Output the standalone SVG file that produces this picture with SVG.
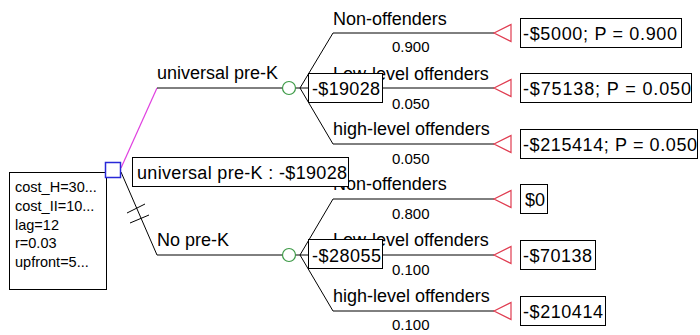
<svg xmlns="http://www.w3.org/2000/svg" width="700" height="335" viewBox="0 0 700 335">
  <style>
    .ln { stroke: #000; stroke-width: 1; fill: none; }
    .lbl { font-family: "Liberation Sans", Arial, sans-serif; font-size: 18px; fill: #000; }
    .prob { font-family: "Liberation Sans", Arial, sans-serif; font-size: 15px; fill: #000; }
    .vars { font-family: "Liberation Sans", Arial, sans-serif; font-size: 14.5px; fill: #000; }
    .box { fill: #fff; stroke: #000; stroke-width: 1; }
    .term { fill: #fff; stroke: #e03c50; stroke-width: 1.2; }
    .chance { fill: #fff; stroke: #3c9a46; stroke-width: 1.2; }
    .decision { fill: #fff; stroke: #2828d8; stroke-width: 1.5; }
  </style>
  <rect width="700" height="335" fill="#fff"/>

  <!-- connectors -->
  <g id="connectors">
    <!-- decision branches -->
    <path d="M121,168 L157,88" stroke="#e040e0" stroke-width="1.2" fill="none"/>
    <path class="ln" d="M157,88 H282.5"/>
    <path class="ln" d="M121,172 L157,255 H282.5"/>
    <!-- hash marks on the non-optimal branch -->
    <path class="ln" d="M127,213 L145,204 M130,223 L149,215"/>
    <!-- chance branches, universal pre-K -->
    <path class="ln" d="M295.5,88 H494"/>
    <path class="ln" d="M300,88 L333,33 H494"/>
    <path class="ln" d="M300,88 L333,144 H494"/>
    <!-- chance branches, no pre-K -->
    <path class="ln" d="M295.5,255 H494"/>
    <path class="ln" d="M300,255 L333,199 H494"/>
    <path class="ln" d="M300,255 L333,311 H494"/>
  </g>

  <!-- variables -->
  <g id="variables">
    <rect class="box" x="9.5" y="172.5" width="97" height="117"/>
    <text class="vars" x="15" y="192">cost_H=30...</text>
    <text class="vars" x="15" y="211">cost_II=10...</text>
    <text class="vars" x="15" y="230">lag=12</text>
    <text class="vars" x="15" y="248">r=0.03</text>
    <text class="vars" x="15" y="267">upfront=5...</text>
  </g>

  <!-- decision node -->
  <g id="decision">
    <rect class="decision" x="105.5" y="162.5" width="15" height="15"/>
  </g>

  <!-- branch labels -->
  <g id="branch-labels">
    <text class="lbl" x="157" y="79">universal pre-K</text>
    <text class="lbl" x="157" y="246">No pre-K</text>
  </g>

  <!-- outcome labels and probabilities -->
  <g id="outcomes-universal">
    <text class="lbl" x="333" y="25">Non-offenders</text>
    <text class="prob" x="392" y="52">0.900</text>
    <text class="lbl" x="333" y="80">Low-level offenders</text>
    <text class="prob" x="392" y="109">0.050</text>
    <text class="lbl" x="333" y="135">high-level offenders</text>
    <text class="prob" x="392" y="164">0.050</text>
  </g>
  <g id="outcomes-none">
    <text class="lbl" x="333" y="190">Non-offenders</text>
    <text class="prob" x="392" y="219">0.800</text>
    <text class="lbl" x="333" y="246">Low-level offenders</text>
    <text class="prob" x="392" y="275">0.100</text>
    <text class="lbl" x="333" y="302">high-level offenders</text>
    <text class="prob" x="392" y="330">0.100</text>
  </g>

  <!-- chance nodes -->
  <g id="chance-universal">
    <circle class="chance" cx="289" cy="88" r="6.5"/>
    <rect class="box" x="308.5" y="73.5" width="74" height="29"/>
    <text class="lbl" x="312" y="95" textLength="68" lengthAdjust="spacing">-$19028</text>
  </g>
  <g id="chance-none">
    <circle class="chance" cx="289" cy="255" r="6.5"/>
    <rect class="box" x="308.5" y="239.5" width="74" height="29"/>
    <text class="lbl" x="312" y="262" textLength="69" lengthAdjust="spacing">-$28055</text>
  </g>

  <!-- decision result -->
  <g id="decision-value">
    <rect class="box" x="132.5" y="157.5" width="216" height="29"/>
    <text class="lbl" x="137" y="179" textLength="210" lengthAdjust="spacing">universal pre-K : -$19028</text>
  </g>

  <!-- terminal nodes -->
  <g id="terminal-1">
    <polygon class="term" points="494,33 511,24.5 511,41.5"/>
    <rect class="box" x="520.5" y="18.5" width="161" height="29"/>
    <text class="lbl" x="523" y="40" textLength="154" lengthAdjust="spacing">-$5000; P = 0.900</text>
  </g>
  <g id="terminal-2">
    <polygon class="term" points="494,88 511,79.5 511,96.5"/>
    <rect class="box" x="520.5" y="73.5" width="171" height="29"/>
    <text class="lbl" x="523" y="95" textLength="168" lengthAdjust="spacing">-$75138; P = 0.050</text>
  </g>
  <g id="terminal-3">
    <polygon class="term" points="494,144 511,135.5 511,152.5"/>
    <rect class="box" x="520.5" y="129.5" width="177" height="29"/>
    <text class="lbl" x="523" y="151" textLength="174" lengthAdjust="spacing">-$215414; P = 0.050</text>
  </g>
  <g id="terminal-4">
    <polygon class="term" points="494,199 511,190.5 511,207.5"/>
    <rect class="box" x="520.5" y="184.5" width="27" height="29"/>
    <text class="lbl" x="525" y="206" textLength="20" lengthAdjust="spacing">$0</text>
  </g>
  <g id="terminal-5">
    <polygon class="term" points="494,255 511,246.5 511,263.5"/>
    <rect class="box" x="520.5" y="240.5" width="75" height="29"/>
    <text class="lbl" x="523" y="262" textLength="69" lengthAdjust="spacing">-$70138</text>
  </g>
  <g id="terminal-6">
    <polygon class="term" points="494,311 511,302.5 511,319.5"/>
    <rect class="box" x="520.5" y="296.5" width="85" height="29"/>
    <text class="lbl" x="523" y="318" textLength="80" lengthAdjust="spacing">-$210414</text>
  </g>
</svg>
